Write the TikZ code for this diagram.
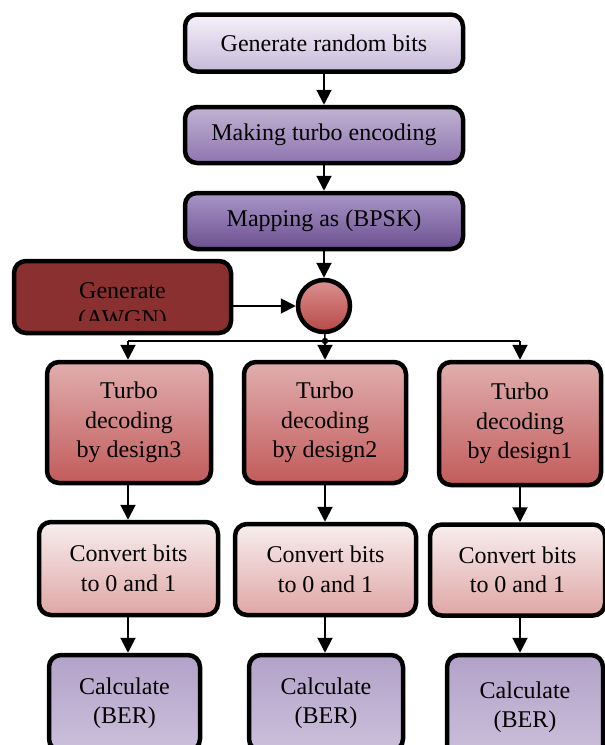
\documentclass[tikz,border=0pt]{standalone}
\usepackage{fontspec}
\setmainfont{Liberation Serif}
\usetikzlibrary{arrows.meta}
\definecolor{lavA}{HTML}{F6F2FA}
\definecolor{lavB}{HTML}{C6B9DA}
\definecolor{purMid}{HTML}{E4DCEE}
\definecolor{purSide}{HTML}{8468A6}
\definecolor{purB}{HTML}{9A82BA}
\definecolor{mapA}{HTML}{A996C8}
\definecolor{mapB}{HTML}{6C5090}
\definecolor{awgnMid}{HTML}{A83C3C}
\definecolor{awgnSide}{HTML}{8A3030}
\definecolor{cirA}{HTML}{DC9090}
\definecolor{cirB}{HTML}{B84848}
\definecolor{decMid}{HTML}{F8EEEE}
\definecolor{decSide}{HTML}{C45E5E}
\definecolor{decB}{HTML}{C05858}
\definecolor{cnvA}{HTML}{F8EEEE}
\definecolor{cnvB}{HTML}{E0A6A6}
\definecolor{calA}{HTML}{B2A2C8}
\definecolor{calB}{HTML}{CCC0DC}
\begin{document}
\begin{tikzpicture}[x=1pt,y=-1pt,
  box/.style={draw=black, line width=4.5pt, rounded corners=12pt, align=center,
    font=\fontsize{24}{29.5}\selectfont, inner sep=0pt},
  vglow/.style 2 args={path picture={\shade[top color=#1, bottom color=#2, fill opacity=0.5]
    (path picture bounding box.south west) rectangle (path picture bounding box.north east);}},
  arr/.style={line width=2pt, -{Triangle[width=15pt,length=15pt]}},
  splitline/.style={line width=1.5pt}
]
\useasboundingbox (0,0) rectangle (605,745);
\fill[white] (0,0) rectangle (605,745);

% top chain
\node[box, top color=lavA, bottom color=lavB, minimum width=278pt, minimum height=57pt] (gen) at (324,43) {Generate random bits};
\node[box, left color=purSide, middle color=purMid, right color=purSide, vglow={white}{purB}, minimum width=278pt, minimum height=56pt] (enc) at (324,135) {Making turbo encoding};
\node[box, top color=mapA, bottom color=mapB, minimum width=278pt, minimum height=56pt] (map) at (324,221) {Mapping as (BPSK)};

% adder
\node[circle, draw=black, line width=4.5pt, top color=cirA, bottom color=cirB, minimum size=52pt, inner sep=0pt] (sum) at (324,306) {};
\node[font=\fontsize{24}{29.5}\selectfont, inner sep=0pt] (plus) at (354,379) {+};

% AWGN
\node[box, left color=awgnSide, middle color=awgnMid, right color=awgnSide, minimum width=217pt, minimum height=72pt] (awgn) at (122.5,297) {};
\begin{scope}
  \clip (12,259) rectangle (233,320);
  \node[align=center, font=\fontsize{24}{28}\selectfont, inner sep=0pt] (awgntxt) at (122.5,307) {Generate\\(AWGN)};
\end{scope}

\draw[arr] (gen) -- (enc);
\draw[arr] (enc) -- (map);
\draw[arr] (map) -- (sum);
\draw[arr] (awgn.east |- sum) -- (sum);

% decoders
\node[box, left color=decSide, middle color=decMid, right color=decSide, vglow={white}{decB}, minimum width=164pt, minimum height=121pt] (dec3) at (129,422.5) {Turbo\\decoding\\by design3};
\node[box, left color=decSide, middle color=decMid, right color=decSide, vglow={white}{decB}, minimum width=162pt, minimum height=121pt] (dec2) at (325,422.5) {Turbo\\decoding\\by design2};
\node[box, left color=decSide, middle color=decMid, right color=decSide, vglow={white}{decB}, minimum width=162pt, minimum height=123pt] (dec1) at (520,423.5) {Turbo\\decoding\\by design1};

% split
\coordinate (sp) at (325,341);
\coordinate (spL) at (128,341);
\coordinate (spR) at (520,341);
\draw[splitline] (sum) -- (sp);
\draw[splitline] (spL) -- (spR);
\fill (sp) circle (3.2pt);
\draw[arr] (spL) -- (spL |- dec3.north);
\draw[arr] (sp) -- (sp |- dec2.north);
\draw[arr] (spR) -- (spR |- dec1.north);

% convert
\node[box, top color=cnvA, bottom color=cnvB, minimum width=179pt, minimum height=93pt] (cnv3) at (128.5,568.5) {Convert bits\\to 0 and 1};
\node[box, top color=cnvA, bottom color=cnvB, minimum width=181pt, minimum height=91pt] (cnv2) at (325.5,569.5) {Convert bits\\to 0 and 1};
\node[box, top color=cnvA, bottom color=cnvB, minimum width=175pt, minimum height=91pt] (cnv1) at (517.5,570) {Convert bits\\to 0 and 1};

\draw[arr] (dec3.south -| spL) -- (cnv3.north -| spL);
\draw[arr] (dec2.south -| sp) -- (cnv2.north -| sp);
\draw[arr] (dec1.south -| spR) -- (cnv1.north -| spR);

% calculate
\node[box, top color=calA, bottom color=calB, minimum width=151pt, minimum height=96pt] (cal3) at (124.5,703) {Calculate\\(BER)};
\node[box, top color=calA, bottom color=calB, minimum width=154pt, minimum height=96pt] (cal2) at (326,703) {Calculate\\(BER)};
\node[box, top color=calA, bottom color=calB, minimum width=156pt, minimum height=104pt] (cal1) at (525,707) {Calculate\\(BER)};

\draw[arr] (cnv3.south -| spL) -- (cal3.north -| spL);
\draw[arr] (cnv2.south -| sp) -- (cal2.north -| sp);
\draw[arr] (cnv1.south -| spR) -- (cal1.north -| spR);
\end{tikzpicture}
\end{document}
